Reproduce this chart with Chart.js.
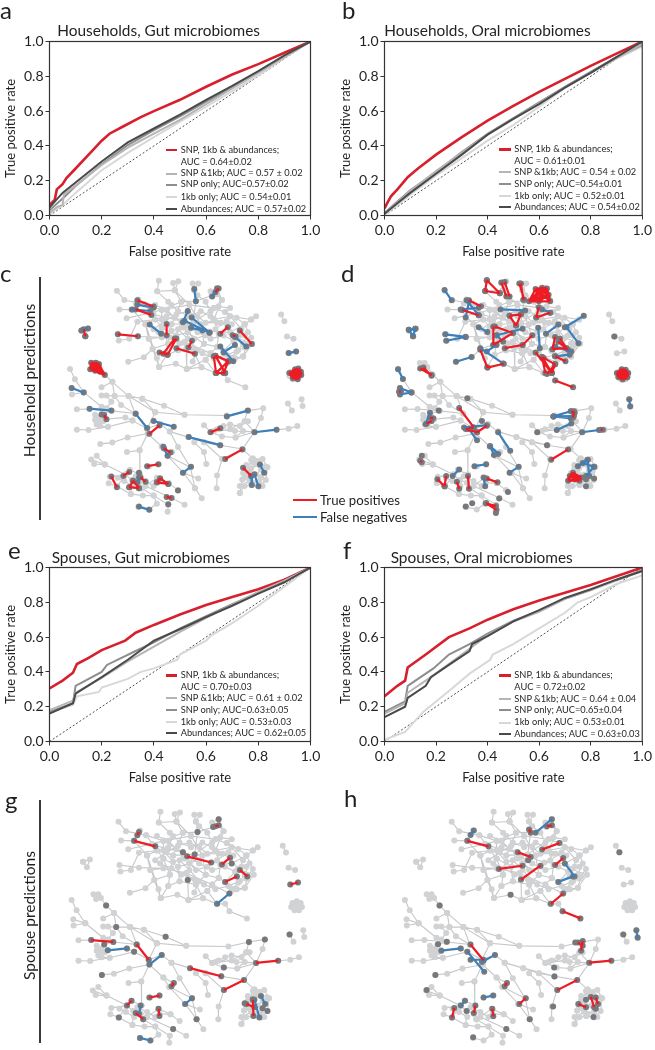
<!DOCTYPE html>
<html><head><meta charset="utf-8">
<script src="https://cdn.jsdelivr.net/npm/chart.js@4"></script>
<style>
html,body{margin:0;padding:0;background:#fff}
#page{position:relative;width:655px;height:1050px;overflow:hidden;font-family:Lato,"Open Sans",sans-serif;color:#231f20}
canvas{position:absolute;display:block}
.t{position:absolute;white-space:nowrap}
.sw{position:absolute}
</style></head><body><div id="page"></div>
<script>
// ---------- ROC curves: [false positive rate, true positive rate] ----------
const seriesNames = ['SNP, 1kb & abundances','SNP &1kb','SNP only','1kb only','Abundances'];
const a_full = [[0,.06],[.01,.075],[.02,.09],[.028,.15],[.05,.18],[.065,.215],[.1,.27],[.15,.35],[.2,.43],[.23,.47],[.28,.51],[.35,.565],[.4,.6],[.5,.665],[.6,.74],[.7,.81],[.8,.87],[.9,.935],[1,1]];
const a_snp1kb = [[0,.015],[.03,.05],[.05,.06],[.055,.12],[.09,.16],[.2,.29],[.3,.39],[.4,.47],[.5,.55],[.6,.64],[.7,.73],[.8,.82],[.9,.91],[1,1]];
const a_snp = [[0,.03],[.03,.07],[.06,.11],[.1,.17],[.2,.295],[.3,.405],[.4,.49],[.5,.57],[.6,.655],[.7,.735],[.8,.825],[.9,.915],[1,1]];
const a_1kb = [[0,.01],[.05,.06],[.1,.13],[.2,.26],[.3,.36],[.4,.45],[.5,.54],[.6,.625],[.7,.715],[.8,.805],[.9,.905],[1,1]];
const a_abund = [[0,.045],[.02,.08],[.05,.13],[.1,.19],[.2,.31],[.3,.42],[.4,.5],[.5,.58],[.6,.665],[.7,.745],[.8,.83],[.9,.92],[1,1]];
const b_full = [[0,.04],[.01,.07],[.025,.11],[.05,.15],[.09,.22],[.13,.27],[.2,.35],[.3,.45],[.4,.545],[.5,.63],[.6,.71],[.7,.785],[.8,.86],[.9,.93],[1,1]];
const b_snp1kb = [[0,.01],[.05,.075],[.1,.14],[.2,.255],[.3,.36],[.4,.465],[.5,.555],[.6,.645],[.7,.735],[.8,.82],[.9,.905],[1,.985]];
const b_snp = [[0,.015],[.05,.08],[.1,.145],[.2,.25],[.3,.365],[.4,.47],[.5,.56],[.6,.65],[.7,.74],[.8,.825],[.9,.91],[1,.98]];
const b_1kb = [[0,.005],[.05,.06],[.1,.12],[.2,.23],[.3,.33],[.4,.43],[.5,.52],[.6,.625],[.7,.735],[.8,.82],[.9,.9],[1,.97]];
const b_abund = [[0,.01],[.05,.07],[.1,.13],[.2,.24],[.3,.35],[.4,.465],[.5,.555],[.6,.64],[.7,.735],[.8,.82],[.9,.91],[1,1]];
const e_full = [[0,.305],[.05,.35],[.09,.395],[.105,.445],[.15,.48],[.2,.525],[.29,.58],[.33,.625],[.4,.67],[.5,.73],[.6,.785],[.7,.83],[.8,.875],[.9,.93],[1,1]];
const e_snp1kb = [[0,.18],[.09,.235],[.1,.28],[.2,.365],[.3,.46],[.4,.545],[.5,.63],[.6,.71],[.7,.785],[.8,.86],[.9,.925],[1,1]];
const e_snp = [[0,.17],[.09,.22],[.1,.32],[.2,.4],[.22,.44],[.33,.52],[.4,.57],[.5,.65],[.6,.72],[.7,.79],[.8,.855],[.9,.92],[1,1]];
const e_1kb = [[0,.17],[.09,.21],[.105,.26],[.19,.285],[.2,.31],[.3,.36],[.35,.4],[.4,.42],[.49,.47],[.5,.5],[.6,.58],[.62,.61],[.7,.68],[.8,.78],[.9,.89],[1,1]];
const e_abund = [[0,.16],[.09,.22],[.1,.275],[.2,.37],[.3,.47],[.4,.58],[.5,.645],[.6,.715],[.7,.78],[.8,.85],[.9,.915],[1,1]];
const f_full = [[0,.26],[.05,.32],[.08,.35],[.09,.425],[.16,.5],[.25,.6],[.33,.65],[.4,.7],[.5,.76],[.6,.81],[.7,.855],[.8,.9],[.9,.95],[1,1]];
const f_snp1kb = [[0,.16],[.08,.22],[.09,.28],[.18,.37],[.3,.5],[.4,.61],[.5,.69],[.6,.745],[.7,.82],[.8,.87],[.9,.925],[1,.98]];
const f_snp = [[0,.17],[.08,.23],[.09,.32],[.19,.42],[.25,.5],[.33,.56],[.4,.62],[.5,.695],[.6,.75],[.7,.82],[.8,.87],[.9,.93],[1,.985]];
const f_1kb = [[0,.01],[.08,.055],[.15,.17],[.25,.29],[.33,.39],[.41,.47],[.42,.5],[.5,.56],[.6,.65],[.7,.74],[.75,.8],[.8,.83],[.9,.905],[1,.955]];
const f_abund = [[0,.14],[.08,.2],[.09,.25],[.16,.32],[.18,.37],[.25,.44],[.33,.52],[.34,.56],[.4,.605],[.5,.69],[.6,.755],[.7,.825],[.8,.875],[.9,.93],[1,.98]];
const chance = [[0,0],[1,1]];
const axisTicks = [0,.2,.4,.6,.8,1];
const a_legend = ['SNP, 1kb & abundances;','AUC = 0.64±0.02','SNP &1kb; AUC = 0.57 ± 0.02','SNP only; AUC=0.57±0.02','1kb only; AUC = 0.54±0.01','Abundances; AUC = 0.57±0.02'];
const b_legend = ['SNP, 1kb & abundances;','AUC = 0.61±0.01','SNP &1kb; AUC = 0.54 ± 0.02','SNP only; AUC=0.54±0.01','1kb only; AUC = 0.52±0.01','Abundances; AUC = 0.54±0.02'];
const e_legend = ['SNP, 1kb & abundances;','AUC = 0.70±0.03','SNP &1kb; AUC = 0.61 ± 0.02','SNP only; AUC=0.63±0.05','1kb only; AUC = 0.53±0.03','Abundances; AUC = 0.62±0.05'];
const f_legend = ['SNP, 1kb & abundances;','AUC = 0.72±0.02','SNP &1kb; AUC = 0.64 ± 0.04','SNP only; AUC=0.65±0.04','1kb only; AUC = 0.53±0.01','Abundances; AUC = 0.63±0.03'];

// ---------- Network: shared backbone, drawn as chains of nodes [x,y,x,y,...] ----------
const backbone = [
[481,55,476,88,530,85,525,62],[541,57,530,85,550,120],[352,86,375,115,437,128,490,145,550,120,595,118,590,85,585,64],[602,64,590,85],
[476,88,520,130,505,165,470,175,440,190,462,266,482,322,533,312,567,328,612,323,655,340,693,308,740,290,750,255,765,232,745,190,780,165],
[360,144,400,145,465,160,550,180,637,212,700,215,745,190,765,175],[382,171,455,155,490,145,575,130,650,140,685,152,720,170,745,190],
[418,113,410,126,400,145],[400,145,440,190,475,295,482,322],[437,128,490,200,535,225,570,215,650,175,700,165,765,175],
[355,220,415,228,490,230,560,245,640,280,693,308],[358,240,390,235,415,182,470,175,520,190,586,187,650,140,675,115,660,97,643,102,595,118,586,187,570,215,565,266,567,328],
[387,306,435,292,462,266,510,250,505,285,482,322],[505,285,540,270,590,280,612,323],[590,280,620,250,610,190,575,130,530,85],
[620,250,660,260,680,272,715,255,735,205,700,165,685,152],[640,88,660,78,675,115,650,175,665,220,660,260,640,280,625,300,655,340],
[655,340,680,340,693,363,747,385],[625,300,567,328],[715,295,740,290],[715,295,680,272,720,232,768,250,740,290],[720,232,695,197,650,175],
[510,250,490,200,490,145],[540,270,535,225,550,180,490,145],[550,120,520,190,510,250],[610,190,586,187],[560,245,590,280],[450,235,490,230],[450,235,440,190],[620,250,570,215],
[510,120,540,150,575,165,610,150,640,165,672,185,705,190],[470,130,505,145,530,170,565,195,600,215,640,235,680,225,710,240,745,225],[490,175,520,210,555,200,590,235,625,225,655,205,690,180],[480,215,515,230,545,250,585,262,615,280,650,295,690,285,725,270,745,262],[465,205,500,180,535,160,570,150,600,165,625,185,660,185],[600,100,625,120,640,150,665,135,700,140],[730,225,755,215,740,250,720,275,700,295],[540,205,570,235,600,270,585,305],
// lower network
[275,310,290,310,314,345,338,368,388,412,430,420,497,442,560,470,690,472,753,458,802,450,795,480,775,523],[283,325,298,322,314,345],
[208,328,223,360,250,400,305,445],[213,388,250,400],[214,407,250,400],[305,385,338,368,345,412,388,412,408,466,445,513],[305,410,345,412,365,440,408,466],
[229,453,268,452,336,458,408,466],[336,458,308,466,290,480,319,484,378,478,400,488,445,513],[290,500,319,484],[229,516,265,517,325,507,400,488],[300,505,325,507],
[388,412,470,462,560,470],[470,462,445,513,485,498,515,522,572,539,668,564,738,576,775,523,843,516,880,513,907,505],[430,420,470,462],
[301,560,338,556,385,540,447,528,445,513],[447,528,422,580,383,585],[422,580,423,655,420,680,428,697],[447,528,490,568,522,585],[490,568,508,597,557,650,602,667],[508,597,578,632,592,697,613,728],[557,650,592,697],
[515,522,540,570,578,632],[572,539,620,555,668,564],[590,555,620,585,627,622],[620,555,676,607,738,576],[676,607,660,658,659,697],
[620,502,640,523,675,537,717,540,775,523],[640,523,700,515,745,490,753,458],[660,515,715,520,775,523],[745,490,775,523],[717,540,740,520,775,523],
[738,576,770,605,800,607,815,632,810,672,790,692,766,687,745,690,730,712],[730,712,738,670,750,640,770,605],[750,640,765,635,790,625,805,648,795,663,766,687],[740,650,760,650,795,663],[760,650,738,670],
[750,625,775,620,795,640,780,655,755,665,770,680,790,675,800,690],[765,610,785,615,810,630],[745,660,760,675,730,690],
[273,608,315,624,378,655,392,640,423,655,398,672,378,655,353,692],[290,597,315,624],[282,622,315,624],[330,662,378,655],[327,682,353,692,395,715,432,720,465,720,475,745,450,763,418,755],
[428,697,440,690,475,665,512,682,540,703],[478,680,512,682],[440,690,520,727,560,748],[428,697,465,720,510,748,508,770],[420,680,398,672,395,715],[450,630,478,624],
[355,665,375,675,400,690],[410,660,440,675,465,690],
[285,470,300,478,310,490,295,492,285,485],[320,410,335,430,320,450],
[650,520,680,505,700,500,730,505,755,490],
// small components
[857,160,867,181],[875,228,895,235],[881,280,904,274],[878,435,890,457],[920,422,923,443],[243,210,264,203,255,227,243,210]
];
const flower = [[900,345],[900,332],[912,337],[916,350],[907,360],[893,360],[883,350],[887,337]];

const c_red = [[410,97,460,116],[405,125,453,142],[350,202,412,208],[245,186,250,208],[650,72,660,60],[500,170,500,205],[525,215,490,262],[530,215,503,265],[478,258,503,265],[530,245,587,262],[567,243,578,222],[665,200,688,180],[703,205,712,208],[725,190,762,232],[650,268,690,285],[650,268,680,322],[645,270,652,322],[690,285,652,322],[690,285,675,322],[680,322,652,322],[492,555,512,568],[500,705,515,708],[440,610,475,604],[367,640,385,628],[330,642,347,675],[385,675,415,678],[385,675,397,655],[397,655,415,678],[420,645,435,658],[470,660,480,648],[470,660,505,665],[480,648,505,665],[447,510,478,484],[308,452,315,465],[635,505,665,493],[680,588,733,558],[735,615,760,640]];
const c_blue = [[208,368,245,382],[263,432,330,438],[405,448,440,492],[460,470,522,488],[568,520,665,545],[685,456,750,438],[770,505,838,497],[448,172,483,200],[585,62,590,100],[565,130,550,165],[577,150,632,197],[555,160,632,197],[575,182,610,190],[655,60,640,85],[410,110,460,120],[393,125,450,130],[665,240,705,285],[710,235,675,258],[710,210,745,240],[490,550,503,578],[550,630,575,612],[415,735,447,745],[760,640,762,668],[770,635,782,672],[787,605,800,630],[415,645,410,660],[875,260,898,255],[238,190,258,184]];
const c_cliques = [[[268,290],[282,290],[292,294],[265,310],[280,315],[295,318],[310,328]],[[895,310],[905,308],[913,318],[914,328],[903,341],[888,338],[877,322]]];
const c_dark = [[535,685],[505,728],[300,450],[415,630],[250,208]];
const d_red = [[470,35,465,68],[470,35,510,75],[465,68,510,75],[525,40,540,85],[515,42,530,85],[575,45,582,95],[570,45,585,95],[415,97,452,115],[395,127,445,143],[490,178,490,235],[495,178,550,198],[490,235,550,198],[540,145,575,140],[540,145,560,175],[575,140,560,175],[630,118,622,150],[622,150,665,135],[525,245,580,235],[580,235,610,205],[450,250,472,305],[472,305,522,293],[620,258,670,322],[640,272,650,322],[645,275,680,295],[680,295,655,325],[640,272,670,322],[680,295,670,322],[680,210,672,248],[672,248,715,245],[695,215,715,245],[680,270,712,285],[690,225,720,250],[680,345,735,366],[265,308,300,328],[275,305,300,330],[385,430,430,490],[405,495,440,505],[440,505,470,485],[410,495,430,490],[738,440,735,460],[730,440,740,445],[668,590,720,558],[820,497,827,497],[295,460,305,462],[285,478,300,470],[265,593,270,598],[412,640,415,680],[318,650,340,672],[340,672,345,640],[378,658,385,680],[470,648,503,660],[468,725,500,745],[468,725,498,733],[200,380,206,378]];
const d_blue = [[340,65,362,97],[197,310,212,340],[203,368,238,382],[203,388,238,382],[342,202,405,210],[345,222,405,210],[375,287,423,272],[408,97,445,143],[415,100,405,150],[390,125,445,120],[512,125,588,128],[445,180,472,195],[500,205,580,185],[520,225,500,205],[450,245,520,292],[470,255,500,235],[628,182,633,245],[652,200,690,172],[710,180,768,145],[715,180,752,230],[680,240,730,255],[640,125,665,135],[680,270,725,265],[675,456,728,440],[675,456,738,455],[675,456,728,462],[685,498,730,478],[763,505,815,498],[505,505,542,562],[480,548,505,572],[480,548,492,575],[540,630,568,612],[432,610,468,604],[460,645,465,672],[365,640,385,620],[295,445,282,480],[400,490,470,483],[415,495,440,530],[750,610,780,590],[765,600,800,612],[780,590,785,640],[800,612,775,640],[908,403,911,425],[230,188,250,185],[230,188,243,208],[250,185,243,208]];
const d_cliques = [[[600,100],[630,100],[665,100],[620,62],[640,58],[655,60],[660,80]],[[720,655],[735,630],[760,645],[755,655],[725,640],[742,650]],[[885,310],[897,312],[905,322],[902,336],[888,342],[875,335],[870,322]]];
const d_dark = [[410,400],[322,438],[862,209],[775,672],[625,505],[655,545],[455,470],[405,735],[425,725],[498,755],[508,710],[535,690],[775,650],[800,648],[270,578]];
const g_red = [[415,118,410,128],[400,145,465,162],[563,193,637,212],[670,218,695,197],[725,235,748,255],[680,272,716,255],[650,100,660,97],[268,452,336,458],[408,466,445,513],[572,539,668,564],[775,523,843,516],[676,607,738,576],[880,280,904,274],[515,595,522,585],[447,630,478,624],[378,655,392,640],[405,678,428,697],[475,665,478,687],[765,637,767,687],[745,650,770,660]];
const g_blue = [[655,340,693,308],[319,484,378,478],[447,528,485,498],[418,755,450,763],[557,650,578,632],[420,655,415,680],[790,625,803,650],[770,637,785,692]];
const g_cliques = [];
const g_dark = [[314,345],[345,412],[497,442],[308,466],[400,488],[301,560],[592,697],[520,727],[353,692],[753,458],[802,450],[676,537],[878,435],[595,118],[565,266],[550,180],[586,187],[700,215],[660,78],[643,102],[810,672],[795,663],[740,648],[765,635],[770,660]];
const h_red = [[600,110,605,120],[655,100,670,97],[410,145,475,162],[565,180,605,195],[507,232,580,222],[575,265,635,222],[640,172,693,152],[680,220,705,198],[667,340,705,308],[703,363,758,385],[420,466,460,515],[785,522,853,516],[687,607,748,576],[525,595,532,585],[570,650,590,632],[370,662,363,692],[435,655,430,678],[487,665,490,688],[752,650,775,660],[790,628,800,660],[805,630,812,650],[765,455,760,485],[750,460,765,470]];
const h_blue = [[420,127,430,113],[620,120,670,78],[710,215,740,255],[690,272,735,255],[330,485,390,478],[410,488,462,550],[420,513,460,513],[455,520,495,498],[460,630,490,624],[390,655,403,640],[930,422,934,445]];
const h_cliques = [];
const h_dark = [[325,345],[320,465],[347,457],[312,560],[285,607],[602,697],[530,727],[428,753],[674,658],[543,312],[677,537],[678,565],[597,205],[878,180],[890,435],[742,460],[408,672],[798,690],[775,637],[805,665]];

const networkLegend = ['True positives','False negatives'];
const sideLabels = ['Household predictions','Spouse predictions'];

// ---------- drawing ----------
const page = document.getElementById('page');
const FONT = 'Lato';
const COLORS = ['#d71f2d','#b5b5b5','#8e8e90','#d8d8d8','#4a4a4c'];
const WIDTHS = [2.6,2,2,2,2];
function text(s,x,y,size,extra){
  const d=document.createElement('div');d.className='t';d.textContent=s;
  d.style.left=x+'px';d.style.top=(y-size)+'px';d.style.fontSize=size+'px';d.style.lineHeight=(2*size)+'px';
  if(extra)Object.assign(d.style,extra);page.appendChild(d);return d;
}
function rect(x,y,w,h,c){const d=document.createElement('div');d.className='sw';Object.assign(d.style,{left:x+'px',top:y+'px',width:w+'px',height:h+'px',background:c});page.appendChild(d);}
function addCanvas(x,y,w,h){const c=document.createElement('canvas');c.width=w;c.height=h;c.style.left=x+'px';c.style.top=y+'px';c.style.width=w+'px';c.style.height=h+'px';page.appendChild(c);return c;}
const frame={id:'frame',afterDatasetsDraw(ch){const a=ch.chartArea,g=ch.ctx;g.save();g.strokeStyle='#333';g.lineWidth=1.2;g.strokeRect(a.left,a.top,a.right-a.left,a.bottom-a.top);g.restore();}};
const xy=a=>a.map(p=>({x:p[0],y:p[1]}));

function roc(opts){
  const {cx,cy,w,h,plotL,plotT,plotR,plotB,series,legend,legendX,rows,title,titleX,titleY}=opts;
  const order=[3,1,2,4,0];
  const datasets=series.map((s,i)=>({label:seriesNames[i],data:xy(s),borderColor:COLORS[i],borderWidth:WIDTHS[i],pointRadius:0,tension:0,order:order[i]}));
  datasets.push({label:'Chance',data:xy(chance),borderColor:'#222',borderWidth:.8,borderDash:[2,2],pointRadius:0,order:5});
  new Chart(addCanvas(cx,cy,w,h),{type:'scatter',data:{datasets:datasets.map(d=>({...d,showLine:true}))},
    plugins:[frame],
    options:{animation:false,responsive:false,devicePixelRatio:1,
      layout:{padding:{top:plotT,right:w-plotR,left:0,bottom:0}},
      plugins:{legend:{display:false},tooltip:{enabled:false}},
      scales:{
        x:{type:'linear',min:0,max:1,afterFit:s=>{s.height=h-plotB;},afterBuildTicks:s=>{s.ticks=axisTicks.map(v=>({value:v}));},
           grid:{drawOnChartArea:false,drawTicks:true,tickLength:4,color:'#333',lineWidth:1},border:{color:'#333',width:1},
           ticks:{maxRotation:0,padding:3,color:'#231f20',font:{family:FONT,size:14},callback:v=>v.toFixed(1)},
           title:{display:true,text:'False positive rate',color:'#231f20',font:{family:FONT,size:13},padding:{top:0,bottom:5}}},
        y:{type:'linear',min:0,max:1,afterFit:s=>{s.width=plotL;},afterBuildTicks:s=>{s.ticks=axisTicks.map(v=>({value:v}));},
           grid:{drawOnChartArea:false,drawTicks:true,tickLength:4,color:'#333',lineWidth:1},border:{color:'#333',width:1},
           ticks:{padding:2,color:'#231f20',font:{family:FONT,size:14},callback:v=>v.toFixed(1)},
           title:{display:true,text:'True positive rate',color:'#231f20',font:{family:FONT,size:13},padding:{top:3,bottom:0}}}
      }}});
  text(title,titleX,titleY,15.4);
  const swatch=[0,2,3,4,5], colorIdx=[0,1,2,3,4];
  swatch.forEach((r,i)=>rect(legendX,rows[r]-WIDTHS[colorIdx[i]]/2,11.5,WIDTHS[colorIdx[i]],COLORS[colorIdx[i]]));
  legend.forEach((s,i)=>text(s,legendX+15,rows[i],9.25));
}
function segs(list,dx,dy){const o=[];list.forEach(e=>{o.push({x:e[0]+dx,y:e[1]+dy},{x:e[2]+dx,y:e[3]+dy},{x:NaN,y:NaN});});return o;}
function cliqueEdges(cl){const o=[];cl.forEach(c=>{for(let i=0;i<c.length;i++)for(let j=i+1;j<c.length;j++)o.push([...c[i],...c[j]]);});return o;}
function network(opts){
  const {cx,cy,w,h,dx,dy,red,blue,cliques,dark}=opts;
  const edges=[],nodes=[];
  backbone.forEach(chain=>{for(let i=0;i+3<chain.length;i+=2)edges.push(chain.slice(i,i+4));for(let i=0;i<chain.length;i+=2)nodes.push({x:chain[i]+dx,y:chain[i+1]+dy});});
  flower.forEach(p=>nodes.push({x:p[0]+dx,y:p[1]+dy}));
  const redAll=red.concat(cliqueEdges(cliques));
  const endpoints=[];red.concat(blue).forEach(e=>{endpoints.push({x:e[0],y:e[1]},{x:e[2],y:e[3]});});
  cliques.forEach(c=>c.forEach(p=>endpoints.push({x:p[0],y:p[1]})));
  dark.forEach(p=>endpoints.push({x:p[0],y:p[1]}));
  new Chart(addCanvas(cx,cy,w,h),{type:'scatter',data:{datasets:[
    {label:'Red',data:segs(redAll,0,0),showLine:true,spanGaps:false,borderColor:'#ed1c24',borderWidth:2.2,pointRadius:0,order:0},
    {label:'Blue',data:segs(blue,0,0),showLine:true,spanGaps:false,borderColor:'#3f7fb8',borderWidth:2.2,pointRadius:0,order:1},
    {label:'Dark',data:endpoints,showLine:false,pointRadius:3,pointBackgroundColor:'#77787b',pointBorderWidth:0,order:2},
    {label:'Nodes',data:nodes,showLine:false,pointRadius:3,pointBackgroundColor:'#d1d2d4',pointBorderWidth:0,order:3},
    {label:'Edges',data:segs(edges,dx,dy),showLine:true,spanGaps:false,borderColor:'#c6c7c9',borderWidth:1.1,pointRadius:0,order:4}
  ]},options:{animation:false,responsive:false,devicePixelRatio:1,layout:{padding:0},
    plugins:{legend:{display:false},tooltip:{enabled:false}},
    scales:{x:{type:'linear',display:false,min:0,max:w*3},y:{type:'linear',display:false,reverse:true,min:0,max:h*3}}}});
}

roc({cx:0,cy:0,w:330,h:265,plotL:49.5,plotT:41.5,plotR:310.5,plotB:215.5,series:[a_full,a_snp1kb,a_snp,a_1kb,a_abund],legend:a_legend,legendX:165.7,rows:[150,162,173.7,184.7,197,209],title:'Households, Gut microbiomes',titleX:57.3,titleY:30});
roc({cx:335,cy:0,w:320,h:265,plotL:49.5,plotT:41.5,plotR:309,plotB:215.5,series:[b_full,b_snp1kb,b_snp,b_1kb,b_abund],legend:b_legend,legendX:499.3,rows:[149.3,161,172,184,196,207],title:'Households, Oral microbiomes',titleX:384.3,titleY:30});
roc({cx:0,cy:526,w:330,h:265,plotL:49.5,plotT:41.5,plotR:310.5,plotB:215.5,series:[e_full,e_snp1kb,e_snp,e_1kb,e_abund],legend:e_legend,legendX:165.7,rows:[675.3,687.3,698.3,710,722.3,733.3],title:'Spouses, Gut microbiomes',titleX:51.7,titleY:557.3});
roc({cx:335,cy:526,w:320,h:265,plotL:49.5,plotT:41.5,plotR:309,plotB:215.5,series:[f_full,f_snp1kb,f_snp,f_1kb,f_abund],legend:f_legend,legendX:499.3,rows:[675.3,687.3,699,710.3,722.7,734],title:'Spouses, Oral microbiomes',titleX:390.7,titleY:557.3});

network({cx:0,cy:265,w:330,h:265,dx:-5,dy:-19,red:c_red,blue:c_blue,cliques:c_cliques,dark:c_dark});
network({cx:330,cy:265,w:325,h:265,dx:-11,dy:-19,red:d_red,blue:d_blue,cliques:d_cliques,dark:d_dark});
network({cx:0,cy:790,w:330,h:260,dx:0,dy:0,red:g_red,blue:g_blue,cliques:g_cliques,dark:g_dark});
network({cx:330,cy:790,w:325,h:260,dx:10,dy:0,red:h_red,blue:h_blue,cliques:h_cliques,dark:h_dark});

// side rules, rotated labels
rect(39.3,277,1.4,243,'#3a3a3c');
rect(39.3,800,1.4,243,'#3a3a3c');
text(sideLabels[0],29,380,15.5,{transform:'translate(-50%,0) rotate(-90deg)',transformOrigin:'50% 50%'});
text(sideLabels[1],29,915,15.5,{transform:'translate(-50%,0) rotate(-90deg)',transformOrigin:'50% 50%'});
// network legend
rect(293,499,24,2,'#ed1c24');rect(293,516,24,2,'#3f7fb8');
text(networkLegend[0],320,500,13.2);text(networkLegend[1],320,517,13.2);
// panel letters
[['a',0,10],['b',342,10],['c',0,273],['d',341,273],['e',8,550],['f',343,550],['g',5,800],['h',344,798]].forEach(l=>text(l[0],l[1],l[2],24));
</script></body></html>
